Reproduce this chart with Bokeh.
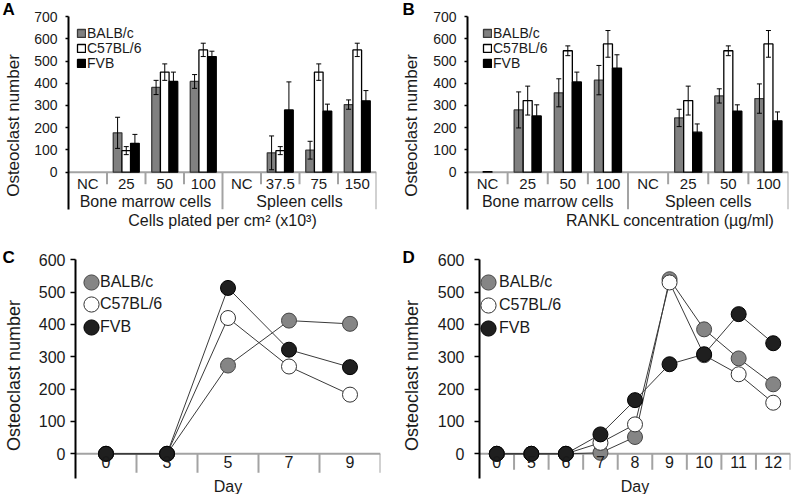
import numpy as np
from bokeh.plotting import figure
from bokeh.models import (Range1d, LinearAxis, FixedTicker, Whisker, TeeHead,
                          ColumnDataSource, Legend, LegendItem, Span, Title)
from bokeh.layouts import row, column
from bokeh.embed import file_html
from bokeh.resources import INLINE
from bokeh.core.properties import value

FONT = "Liberation Sans"
TXT = "#1a1a1a"
GRAY_AX = "#a3a3a3"

STRAINS = ["BALB/c", "C57BL/6", "FVB"]

# ---------------- Panel A data ----------------
A_GROUPS = ["Bone marrow cells", "Spleen cells"]
A_GROUP_SIZES = [4, 4]
A_CATS = ["NC", "25", "50", "100", "NC", "37.5", "75", "150"]
A_BALB = [0, 177, 381, 408, 0, 87, 99, 304]
A_BALB_ERR = [0, 70, 32, 31, 0, 76, 40, 21]
A_C57 = [0, 97, 450, 550, 0, 97, 450, 550]
A_C57_ERR = [0, 18, 37, 30, 0, 18, 37, 30]
A_FVB = [0, 130, 408, 520, 0, 280, 274, 321]
A_FVB_ERR = [0, 40, 42, 24, 0, 126, 32, 46]
A_XTITLE = "Cells plated per cm\u00b2 (x10\u00b3)"

# ---------------- Panel B data ----------------
B_GROUPS = ["Bone marrow cells", "Spleen cells"]
B_GROUP_SIZES = [4, 4]
B_CATS = ["NC", "25", "50", "100", "NC", "25", "50", "100"]
B_BALB = [0, 280, 357, 414, 0, 244, 343, 331]
B_BALB_ERR = [0, 81, 63, 66, 0, 39, 32, 66]
B_C57 = [2, 322, 546, 577, 0, 322, 546, 577]
B_C57_ERR = [0, 65, 22, 60, 0, 65, 22, 60]
B_FVB = [0, 253, 406, 468, 0, 180, 274, 231]
B_FVB_ERR = [0, 50, 44, 60, 0, 37, 29, 40]
B_XTITLE = "RANKL concentration (\u00b5g/ml)"

# ---------------- Panel C data ----------------
C_DAYS = ["0", "3", "5", "7", "9"]
C_BALB = [0, 0, 273, 412, 402]
C_C57 = [0, 0, 420, 270, 183]
C_FVB = [0, 0, 513, 322, 268]

# ---------------- Panel D data ----------------
D_DAYS = ["0", "5", "6", "7", "8", "9", "10", "11", "12"]
D_BALB = [0, 0, 0, 3, 52, 540, 385, 295, 215]
D_C57 = [0, 0, 0, 34, 91, 530, 305, 246, 158]
D_FVB = [0, 0, 0, 60, 166, 277, 308, 432, 342]

BAR_FILL = ["#808080", "#ffffff", "#000000"]
BAR_LINE = ["#3a3a3a", "#000000", "#000000"]
DOT_FILL = ["#858585", "#ffffff", "#1f1f1f"]
DOT_LINE = ["#454545", "#333333", "#000000"]


def base_fig(W, H, fl, fr, ft, n, ybot, ytop):
    p = figure(width=W, height=H, title=None, x_range=Range1d(0, n),
               y_range=Range1d(ybot, ytop), x_axis_location=None,
               y_axis_location=None, toolbar_location=None, output_backend="svg",
               min_border_left=fl, min_border_right=W - fr, min_border_top=ft,
               min_border_bottom=0)
    p.grid.visible = False
    p.outline_line_color = None
    p.background_fill_color = "white"
    p.border_fill_color = "white"
    return p


def add_yaxis(p, ticks, lo, hi, tick_fs, label_fs, tick_out, standoff, lstand,
              label_center):
    # axis with line, ticks and tick labels
    ax = LinearAxis(ticker=FixedTicker(ticks=ticks), bounds=(lo, hi))
    ax.axis_line_color = "black"
    ax.axis_line_width = 2
    ax.major_tick_line_color = "black"
    ax.major_tick_line_width = 1.5
    ax.major_tick_out = tick_out
    ax.major_tick_in = 0
    ax.minor_tick_line_color = None
    ax.major_label_text_font = FONT
    ax.major_label_text_font_size = tick_fs
    ax.major_label_text_color = TXT
    ax.major_label_standoff = standoff
    p.add_layout(ax, "left")
    # outer axis carrying only the title, centred where the original puts it
    span = 100
    at = LinearAxis(ticker=FixedTicker(ticks=[]),
                    bounds=(label_center - span, label_center + span),
                    axis_label="Osteoclast number")
    at.axis_line_color = None
    at.major_tick_line_color = None
    at.minor_tick_line_color = None
    at.major_tick_out = 0
    at.major_tick_in = 0
    at.major_label_standoff = 0
    at.axis_label_text_font = FONT
    at.axis_label_text_font_size = label_fs
    at.axis_label_text_font_style = "normal"
    at.axis_label_text_color = TXT
    at.axis_label_standoff = lstand
    p.add_layout(at, "left")


def add_letter(p, letter, offset, standoff):
    p.add_layout(Title(text=letter, align="left", offset=offset, standoff=standoff,
                       vertical_align="bottom", text_font=FONT,
                       text_font_size="17px", text_font_style="bold",
                       text_color="black"), "above")


def legend_box(items, loc, gw, gh, lh, standoff, fs):
    return Legend(items=items, location=loc, glyph_width=gw, glyph_height=gh,
                  label_height=lh, padding=0, margin=0, label_standoff=standoff,
                  border_line_color=None, background_fill_alpha=0,
                  label_text_font=FONT, label_text_font_size=fs,
                  label_text_color=TXT)


def bar_panel(letter, cats, groups, gsizes, vals, errs, xtitle, W, fl, fr,
              title_x, title_align, standoff, lstand, legend_x, letter_off):
    H, FTF, ZERO, PPU, TOP = 236, 14, 171.7, 0.2224, 700
    px = lambda d: d / PPU
    n = len(cats)
    p = base_fig(W, H, fl, fr, FTF, n, -(H - ZERO) / PPU, (ZERO - FTF) / PPU)
    p.add_layout(Span(location=0, dimension="width", line_color=GRAY_AX,
                      line_width=2, level="underlay"))
    gb = list(np.cumsum(gsizes))
    inner = [b for b in range(1, n) if b not in gb]
    p.segment(x0=inner, y0=0, x1=inner, y1=-px(12), line_color=GRAY_AX, line_width=2)
    p.segment(x0=gb, y0=0, x1=gb, y1=-px(37), line_color=GRAY_AX, line_width=2)

    offs = [-0.225, 0.0, 0.225]
    centers = [33, 48, 63]
    for k in range(3):
        v = np.array(vals[k], float)
        e = np.array(errs[k], float)
        idx = np.nonzero(v > 0)[0]
        src = ColumnDataSource(dict(x=idx + 0.5 + offs[k], top=v[idx]))
        r = p.vbar(x="x", top="top", bottom=0, width=0.225, source=src,
                   fill_color=BAR_FILL[k], line_color=BAR_LINE[k], line_width=1.3)
        je = np.nonzero(e > 0)[0]
        wsrc = ColumnDataSource(dict(x=je + 0.5 + offs[k], up=v[je] + e[je],
                                     lo=v[je] - e[je]))
        p.add_layout(Whisker(source=wsrc, base="x", upper="up", lower="lo",
                             dimension="height", line_color="black", line_width=1,
                             level="annotation",
                             upper_head=TeeHead(size=5, line_color="black", line_width=1),
                             lower_head=TeeHead(size=5, line_color="black", line_width=1)))
        p.add_layout(legend_box([LegendItem(label=STRAINS[k], renderers=[r])],
                                (legend_x, H - centers[k] - 8), 10, 10, 16, 1, "14px"))

    p.text(x=list(np.arange(n) + 0.5), y=[-px(11.5)] * n, text=cats,
           text_align="center", text_baseline="middle", text_font=value(FONT),
           text_font_size="15px", text_color=TXT)
    starts = np.concatenate([[0], np.cumsum(gsizes)[:-1]])
    gx = list(starts + np.array(gsizes) / 2)
    p.text(x=gx, y=[-px(29.5)] * len(groups), text=groups, text_align="center",
           text_baseline="middle", text_font=value(FONT), text_font_size="16px",
           text_color=TXT)
    p.text(x=[title_x], y=[-px(48.5)], text=[xtitle], text_align=title_align,
           text_baseline="middle", text_font=value(FONT), text_font_size="16px",
           text_color=TXT)

    add_yaxis(p, list(range(0, TOP + 1, 100)), -px(37), TOP, "14px", "17px", 3,
              standoff, lstand, (ZERO - 84) / PPU)
    add_letter(p, letter, letter_off, -9)
    return p


def line_panel(letter, days, series, W, fl, fr, sep_len, standoff, lstand,
               legend_x, text_x, legend_cy, letter_off):
    H, FTF, ZERO, PPU, TOP = 258, 20, 217.3, 0.3233, 600
    px = lambda d: d / PPU
    n = len(days)
    p = base_fig(W, H, fl, fr, FTF, n, -(H - ZERO) / PPU, (ZERO - FTF) / PPU)
    p.add_layout(Span(location=0, dimension="width", line_color=GRAY_AX,
                      line_width=2, level="underlay"))
    b = list(range(1, n + 1))
    p.segment(x0=b, y0=0, x1=b, y1=-px(sep_len), line_color=GRAY_AX, line_width=2)

    xs = list(np.arange(n) + 0.5)
    for k in range(3):
        p.line(xs, series[k], line_color="#3a3a3a", line_width=1)
    for k in range(3):
        r = p.scatter(xs, series[k], marker="circle", size=15,
                      fill_color=DOT_FILL[k], line_color=DOT_LINE[k], line_width=1)
        yloc = H - legend_cy[k] - 19
        # marker of the legend entry
        p.add_layout(legend_box([LegendItem(label=" ", renderers=[r])],
                                (legend_x, yloc), 38, 38, 38, 0, "16px"))
        # text of the legend entry (glyph box of zero width)
        p.add_layout(legend_box([LegendItem(label=STRAINS[k], renderers=[r])],
                                (text_x, yloc), 0, 38, 38, 0, "16px"))

    p.text(x=xs, y=[-px(8.5)] * n, text=days, text_align="center",
           text_baseline="middle", text_font=value(FONT), text_font_size="16px",
           text_color=TXT)
    p.text(x=[n / 2], y=[-px(33)], text=["Day"], text_align="center",
           text_baseline="middle", text_font=value(FONT), text_font_size="16px",
           text_color=TXT)

    add_yaxis(p, list(range(0, TOP + 1, 100)), -px(25), TOP, "16px", "18px", 5,
              standoff, lstand, (ZERO - 111) / PPU)
    add_letter(p, letter, letter_off, -20)
    return p


pA = bar_panel("A", A_CATS, A_GROUPS, A_GROUP_SIZES, [A_BALB, A_C57, A_FVB],
               [A_BALB_ERR, A_C57_ERR, A_FVB_ERR], A_XTITLE, 398, 60, 376,
               len(A_CATS) / 2, "center", 8, 9, 8, -66)
pB = bar_panel("B", B_CATS, B_GROUPS, B_GROUP_SIZES, [B_BALB, B_C57, B_FVB],
               [B_BALB_ERR, B_C57_ERR, B_FVB_ERR], B_XTITLE, 396, 68, 390,
               7.65, "right", 8, 10, 15, -65)
pC = line_panel("C", C_DAYS, [C_BALB, C_C57, C_FVB], 398, 62, 380, 19, 5, 12,
                -3, 25, [46, 68, 91], -73)
pD = line_panel("D", D_DAYS, [D_BALB, D_C57, D_FVB], 396, 70, 392, 16, 10, 13,
                -10, 20, [46, 69, 92], -77)

layout = column(row(pA, pB), row(pC, pD))

with open("out.html", "w") as f:
    f.write(file_html(layout, INLINE))
